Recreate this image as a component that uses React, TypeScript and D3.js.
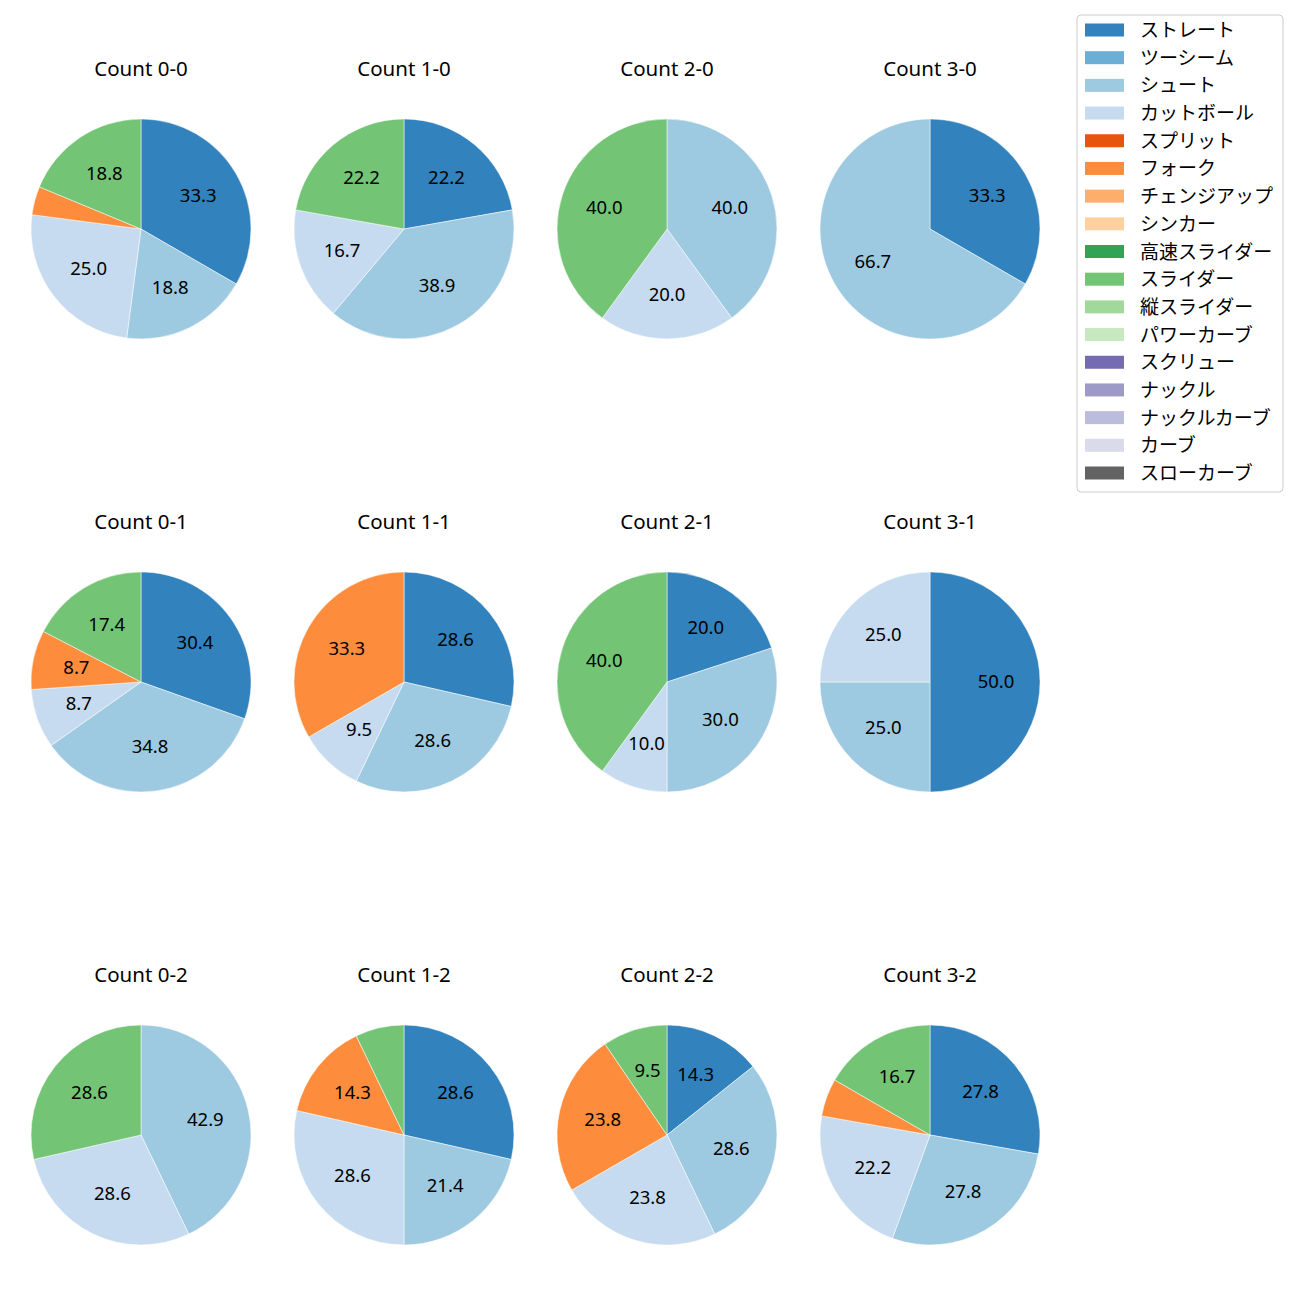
import React from 'react';
import * as d3 from 'd3';

// pitch types in legend order, with tab20c colours
const pitchTypes: string[] = [
  'ストレート', 'ツーシーム', 'シュート', 'カットボール', 'スプリット', 'フォーク',
  'チェンジアップ', 'シンカー', '高速スライダー', 'スライダー', '縦スライダー',
  'パワーカーブ', 'スクリュー', 'ナックル', 'ナックルカーブ', 'カーブ', 'スローカーブ',
];

const pitchColors: string[] = [
  '#3182bd', '#6baed6', '#9ecae1', '#c6dbef', '#e6550d', '#fd8d3c',
  '#fdae6b', '#fdd0a2', '#31a354', '#74c476', '#a1d99b', '#c7e9c0',
  '#756bb1', '#9e9ac8', '#bcbddc', '#dadaeb', '#636363',
];

const countLabels: string[] = [
  '0-0', '1-0', '2-0', '3-0',
  '0-1', '1-1', '2-1', '3-1',
  '0-2', '1-2', '2-2', '3-2',
];

// pitch counts per situation: [ストレート, シュート, カットボール, フォーク, スライダー]
const shownTypes: string[] = ['ストレート', 'シュート', 'カットボール', 'フォーク', 'スライダー'];

const countValues: number[][] = [
  [16, 9, 12, 2, 9],
  [4, 7, 3, 0, 4],
  [0, 2, 1, 0, 2],
  [1, 2, 0, 0, 0],
  [7, 8, 2, 2, 4],
  [6, 6, 2, 7, 0],
  [2, 3, 1, 0, 4],
  [2, 1, 1, 0, 0],
  [0, 3, 2, 0, 2],
  [4, 3, 4, 2, 1],
  [3, 6, 5, 5, 2],
  [5, 5, 4, 1, 3],
];

const FONT = '"Noto Sans", "Noto Sans CJK JP", sans-serif';

const colX = d3.scaleLinear().domain([0, 3]).range([141, 930]);
const rowY = d3.scaleLinear().domain([0, 2]).range([229, 1135]);
const R = 110;

interface Slice { type: string; value: number; }

const pieGen = d3.pie<Slice>()
  .value(d => d.value)
  .sort(null)
  .startAngle(0)
  .endAngle(2 * Math.PI);

const arcGen = d3.arc<d3.PieArcDatum<Slice>>().innerRadius(0).outerRadius(R);
const labelArc = d3.arc<d3.PieArcDatum<Slice>>().innerRadius(R * 0.6).outerRadius(R * 0.6);

const color = d3.scaleOrdinal<string, string>().domain(pitchTypes).range(pitchColors);

const PieCell: React.FC<{ idx: number }> = ({ idx }) => {
  const cx = colX(idx % 4);
  const cy = rowY(Math.floor(idx / 4));
  const slices: Slice[] = shownTypes
    .map((t, i) => ({ type: t, value: countValues[idx][i] }))
    .filter(s => s.value > 0);
  const total = d3.sum(slices, s => s.value);
  const arcs = pieGen(slices);
  return (
    <g>
      <text x={cx} y={cy - 161} textAnchor="middle" dominantBaseline="central"
        fontSize={20.5} fontFamily={FONT} fill="#000">
        {`Count ${countLabels[idx]}`}
      </text>
      <g transform={`translate(${cx},${cy})`}>
        {arcs.map((a, i) => (
          <path key={i} d={arcGen(a) || ''} fill={color(a.data.type)} stroke="#fff" strokeWidth={0.5} />
        ))}
        {arcs.map((a, i) => {
          const pct = (a.data.value / total) * 100;
          if (pct < 8) return null;
          const [lx, ly] = labelArc.centroid(a);
          return (
            <text key={`l${i}`} x={lx} y={ly - 2} textAnchor="middle" dominantBaseline="central"
              fontSize={18.5} fontFamily={FONT} fill="#000">
              {pct.toFixed(1)}
            </text>
          );
        })}
      </g>
    </g>
  );
};

const legendY = d3.scaleLinear().domain([0, pitchTypes.length - 1]).range([30, 473]);

const Legend: React.FC = () => (
  <g>
    <rect x={1077} y={15} width={206} height={477} rx={4} fill="#fff" stroke="#cccccc" strokeWidth={1} />
    {pitchTypes.map((t, i) => (
      <g key={t}>
        <rect x={1085} y={legendY(i) - 6.5} width={39} height={13} fill={color(t)} />
        <text x={1140} y={legendY(i)} dominantBaseline="central" fontSize={19}
          fontFamily={FONT} fill="#000">{t}</text>
      </g>
    ))}
  </g>
);

const App: React.FC = () => (
  <svg width={1300} height={1300} style={{ position: 'absolute', left: 0, top: 0, background: '#fff' }}>
    <rect width={1300} height={1300} fill="#fff" />
    {countLabels.map((_, i) => <PieCell key={i} idx={i} />)}
    <Legend />
  </svg>
);

export default App;
